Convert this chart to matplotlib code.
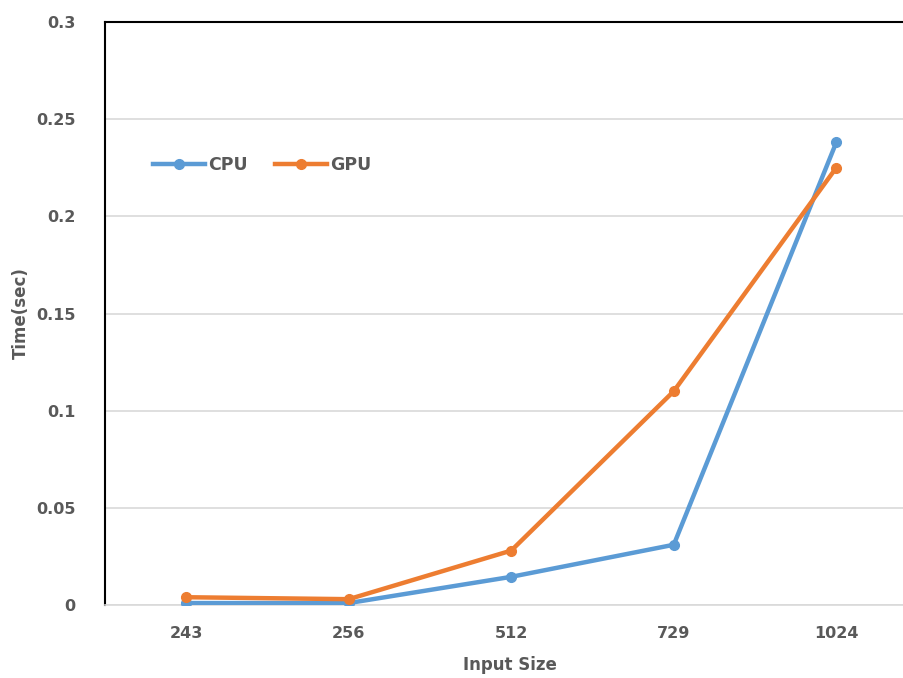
import matplotlib
matplotlib.use("Agg")
import matplotlib.pyplot as plt

# ── Data ──────────────────────────────────────────────────────────────────────
input_sizes = ["243", "256", "512", "729", "1024"]
cpu_time = [0.001, 0.001, 0.0145, 0.031, 0.238]
gpu_time = [0.004, 0.003, 0.028, 0.110, 0.225]

CPU_COLOR = "#5B9BD5"
GPU_COLOR = "#ED7D31"
TEXT_COLOR = "#595959"

plt.rcParams["font.family"] = ["DejaVu Sans"]

fig = plt.figure(figsize=(9.04, 6.78), dpi=100)
ax = fig.add_axes([105 / 904, 1 - 605 / 678, 812.5 / 904, 583 / 678])

x = range(len(input_sizes))
ax.plot(x, cpu_time, color=CPU_COLOR, linewidth=3.2, marker="o", markersize=7, label="CPU", zorder=3)
ax.plot(x, gpu_time, color=GPU_COLOR, linewidth=3.2, marker="o", markersize=7, label="GPU", zorder=3)

ax.set_xlim(-0.5, len(input_sizes) - 0.5)
ax.set_ylim(0, 0.3)
ax.set_xticks(list(x))
ax.set_xticklabels(input_sizes)
ax.set_yticks([0, 0.05, 0.1, 0.15, 0.2, 0.25, 0.3])
ax.set_yticklabels(["0", "0.05", "0.1", "0.15", "0.2", "0.25", "0.3"])

ax.grid(axis="y", color="#D9D9D9", linewidth=1.2, zorder=0)
ax.set_axisbelow(True)
ax.tick_params(length=0, labelsize=11.5, labelcolor=TEXT_COLOR)
for lbl in ax.get_xticklabels() + ax.get_yticklabels():
    lbl.set_fontweight("bold")
ax.tick_params(axis="x", pad=15)
ax.tick_params(axis="y", pad=21)

ax.spines["left"].set_color("black")
ax.spines["left"].set_linewidth(1.5)
ax.spines["top"].set_color("black")
ax.spines["top"].set_linewidth(1.5)
ax.spines["bottom"].set_color("#D9D9D9")
ax.spines["bottom"].set_linewidth(1.2)
ax.spines["right"].set_visible(False)

ax.set_xlabel("Input Size", fontsize=12, fontweight="bold", color=TEXT_COLOR)
ax.xaxis.set_label_coords(405 / 812.5, (605 - 656) / 583)
ax.set_ylabel("Time(sec)", fontsize=12, fontweight="bold", color=TEXT_COLOR)
ax.yaxis.set_label_coords(-75 / 812.5, 0.5)

leg = ax.legend(loc="center left", bbox_to_anchor=(0.04, (605 - 165) / 583), ncol=2, frameon=False,
                handlelength=3, columnspacing=1.6, handletextpad=0.15,
                prop={"weight": "bold", "size": 12.5})
for t in leg.get_texts():
    t.set_color(TEXT_COLOR)

fig.savefig("out.png", dpi=100)
